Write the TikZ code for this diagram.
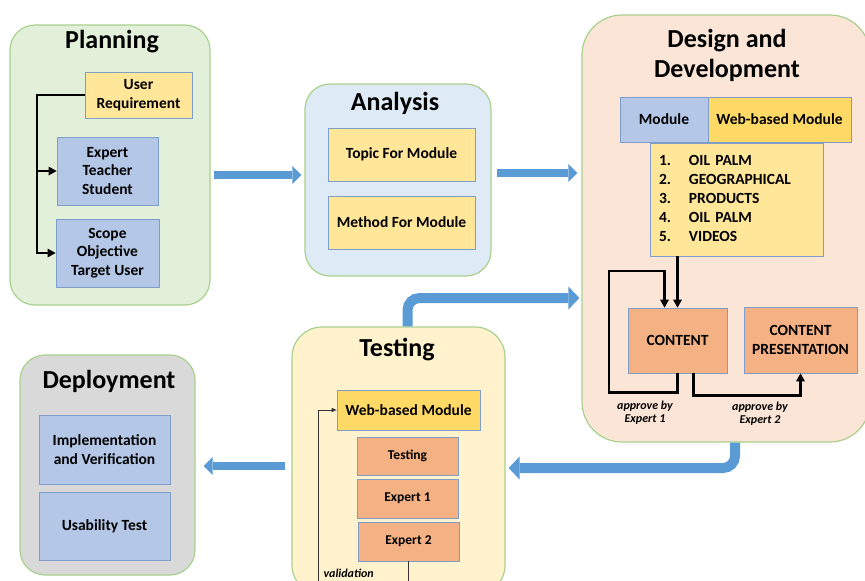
\documentclass[tikz,border=0pt]{standalone}
\usepackage{fontspec}
\setmainfont{Carlito}
\usetikzlibrary{arrows.meta}
\definecolor{stageedge}{HTML}{A9D18E}
\definecolor{planfill}{HTML}{E2F0D9}
\definecolor{anafill}{HTML}{DEEBF7}
\definecolor{desfill}{HTML}{FBE5D6}
\definecolor{testfill}{HTML}{FFF2CC}
\definecolor{depfill}{HTML}{D9D9D9}
\definecolor{boxedge}{HTML}{7F9DC9}
\definecolor{paleyellow}{HTML}{FFE699}
\definecolor{goldyellow}{HTML}{FFD966}
\definecolor{paleblue}{HTML}{B4C7E7}
\definecolor{paleorange}{HTML}{F4B183}
\definecolor{arrowblue}{HTML}{5B9BD5}
\tikzset{
	stage/.style={draw=stageedge, line width=1.2pt, rounded corners=#1},
	stage/.default=25pt,
	stagetitle/.style={font=\fontsize{26}{30}\selectfont\bfseries, align=center},
	subbox/.style={draw=boxedge, line width=0.8pt, align=center, inner sep=2pt,
		font=\fontsize{15.5}{18.5}\selectfont\bfseries},
	smallbox/.style={subbox, font=\fontsize{13.5}{16}\selectfont\bfseries},
	note/.style={font=\fontsize{12}{13}\selectfont\bfseries\itshape, align=center},
	link/.style={line width=2.5pt, -{Triangle[length=8pt,width=9pt,line width=0pt]}},
	vlink/.style={line width=0.9pt, draw=black!80, -{Triangle[length=5pt,width=4.5pt,line width=0pt]}},
	barrow/.style={draw=arrowblue, line width=8pt,
		-{Triangle[length=9pt,width=18pt,line width=0pt]}},
	bentarrow/.style={draw=arrowblue, line width=10pt, rounded corners=12pt,
		-{Triangle[length=11pt,width=23pt,line width=0pt]}}
}
\begin{document}
\begin{tikzpicture}[x=1pt,y=-1pt]
	\useasboundingbox (0,0) rectangle (865,581);
	\clip (0,0) rectangle (865,581);
	% stages
	\node[stage, fill=planfill, minimum width=200pt, minimum height=280pt] (planning) at (110,165) {};
	\node[stage, fill=anafill, minimum width=186pt, minimum height=192pt] (analysis) at (398,180) {};
	\node[stage=40pt, fill=desfill, minimum width=288pt, minimum height=427pt] (design) at (726,228.5) {};
	\node[stage=30pt, fill=testfill, minimum width=213pt, minimum height=268pt] (testing) at (398.5,461) {};
	\node[stage, fill=depfill, minimum width=175pt, minimum height=220pt] (deployment) at (107.5,465) {};
	\node[stagetitle] (plantitle) at (112,42) {Planning};
	\node[stagetitle] (anatitle) at (395,103) {Analysis};
	\node[stagetitle] (destitle) at (727,55) {Design and\\Development};
	\node[stagetitle] (testtitle) at (397,350) {Testing};
	\node[stagetitle] (deptitle) at (109,381) {Deployment};
	% flow between stages
	\draw[barrow, shorten <=3pt, shorten >=3pt] (planning.east |- 0,175) -- (analysis.west |- 0,175);
	\draw[barrow, shorten <=5pt, shorten >=4pt] (analysis.east |- 0,173) -- (design.west |- 0,173);
	\draw[bentarrow, shorten >=2pt] ([xshift=9pt]testing.north) |- (design.west |- 0,298);
	\draw[bentarrow, shorten >=3pt] ([xshift=9pt]design.south) |- (testing.east |- 0,468);
	\draw[barrow, shorten <=6pt, shorten >=8pt] (testing.west |- 0,466) -- (deployment.east |- 0,466);
	% planning
	\node[subbox, fill=paleyellow, minimum width=107pt, minimum height=46pt] (ureq) at (138.5,95) {User\\Requirement};
	\node[subbox, fill=paleblue, minimum width=101pt, minimum height=68pt] (expert) at (107.5,171) {Expert\\Teacher\\Student};
	\node[subbox, fill=paleblue, minimum width=103pt, minimum height=68pt] (scope) at (107.5,253) {Scope\\Objective\\Target User};
	\coordinate (ptrunk) at (37,253);
	\draw[link] (ureq.west) -| (ptrunk) -- (scope.west);
	\draw[link] (ptrunk |- expert.west) -- (expert.west);
	% analysis
	\node[subbox, fill=paleyellow, minimum width=147pt, minimum height=53pt] (topic) at (401.5,154.5) {Topic For Module};
	\node[subbox, fill=paleyellow, minimum width=147pt, minimum height=53pt] (method) at (401.5,222.5) {Method For Module};
	% design and development
	\node[subbox, fill=paleblue, minimum width=88pt, minimum height=45pt] (module) at (664,119.5) {Module};
	\node[subbox, fill=goldyellow, minimum width=143pt, minimum height=45pt] (webmod) at (779.5,119.5) {Web-based Module};
	\node[subbox, fill=paleyellow, text width=155pt, align=left, inner sep=9pt,
		minimum height=105pt, font=\fontsize{15.5}{19}\selectfont\bfseries] (list) at (736.5,199.5) {%
		\begin{tabular}{@{}l@{\hspace{18pt}}l@{}}
			1.&OIL PALM\\
			2.&GEOGRAPHICAL\\
			3.&PRODUCTS\\
			4.&OIL PALM\\
			5.&VIDEOS
		\end{tabular}};
	\node[subbox, fill=paleorange, minimum width=99pt, minimum height=65pt] (content) at (677.5,340.5) {CONTENT};
	\node[subbox, fill=paleorange, minimum width=113pt, minimum height=66pt] (cpres) at (800.5,340) {CONTENT\\PRESENTATION};
	\coordinate (loopcorner) at (609,271);
	\draw[link] (list.south -| content.north) -- (content.north);
	\draw[link] (content.south) -- ++(0,19) -| (loopcorner) -| ([xshift=-13pt]content.north);
	\draw[link] ([xshift=16pt]content.south) -- ++(0,22) -| (cpres.south);
	\node[note] (approve1) at (645,413) {approve by\\Expert 1};
	\node[note] (approve2) at (760,414) {approve by\\Expert 2};
	% testing
	\node[subbox, fill=goldyellow, minimum width=143pt, minimum height=40pt] (tweb) at (408.5,410) {Web-based Module};
	\node[smallbox, fill=paleorange, minimum width=101pt, minimum height=38pt] (ttest) at (407.5,456) {Testing};
	\node[smallbox, fill=paleorange, minimum width=101pt, minimum height=39pt] (texp1) at (407.5,498.5) {Expert 1};
	\node[smallbox, fill=paleorange, minimum width=101pt, minimum height=39pt] (texp2) at (408.5,541.5) {Expert 2};
	\coordinate (vcorner) at (318,410);
	\draw[vlink] (texp2.south) -- ++(0,30) -| (vcorner) -- (tweb.west);
	\node[note, anchor=west] (vlabel) at (320,573) {validation};
	% deployment
	\node[subbox, fill=paleblue, minimum width=131pt, minimum height=69pt] (impl) at (104.5,449.5) {Implementation\\and Verification};
	\node[subbox, fill=paleblue, minimum width=131pt, minimum height=68pt] (usab) at (104.5,526) {Usability Test};
\end{tikzpicture}
\end{document}
